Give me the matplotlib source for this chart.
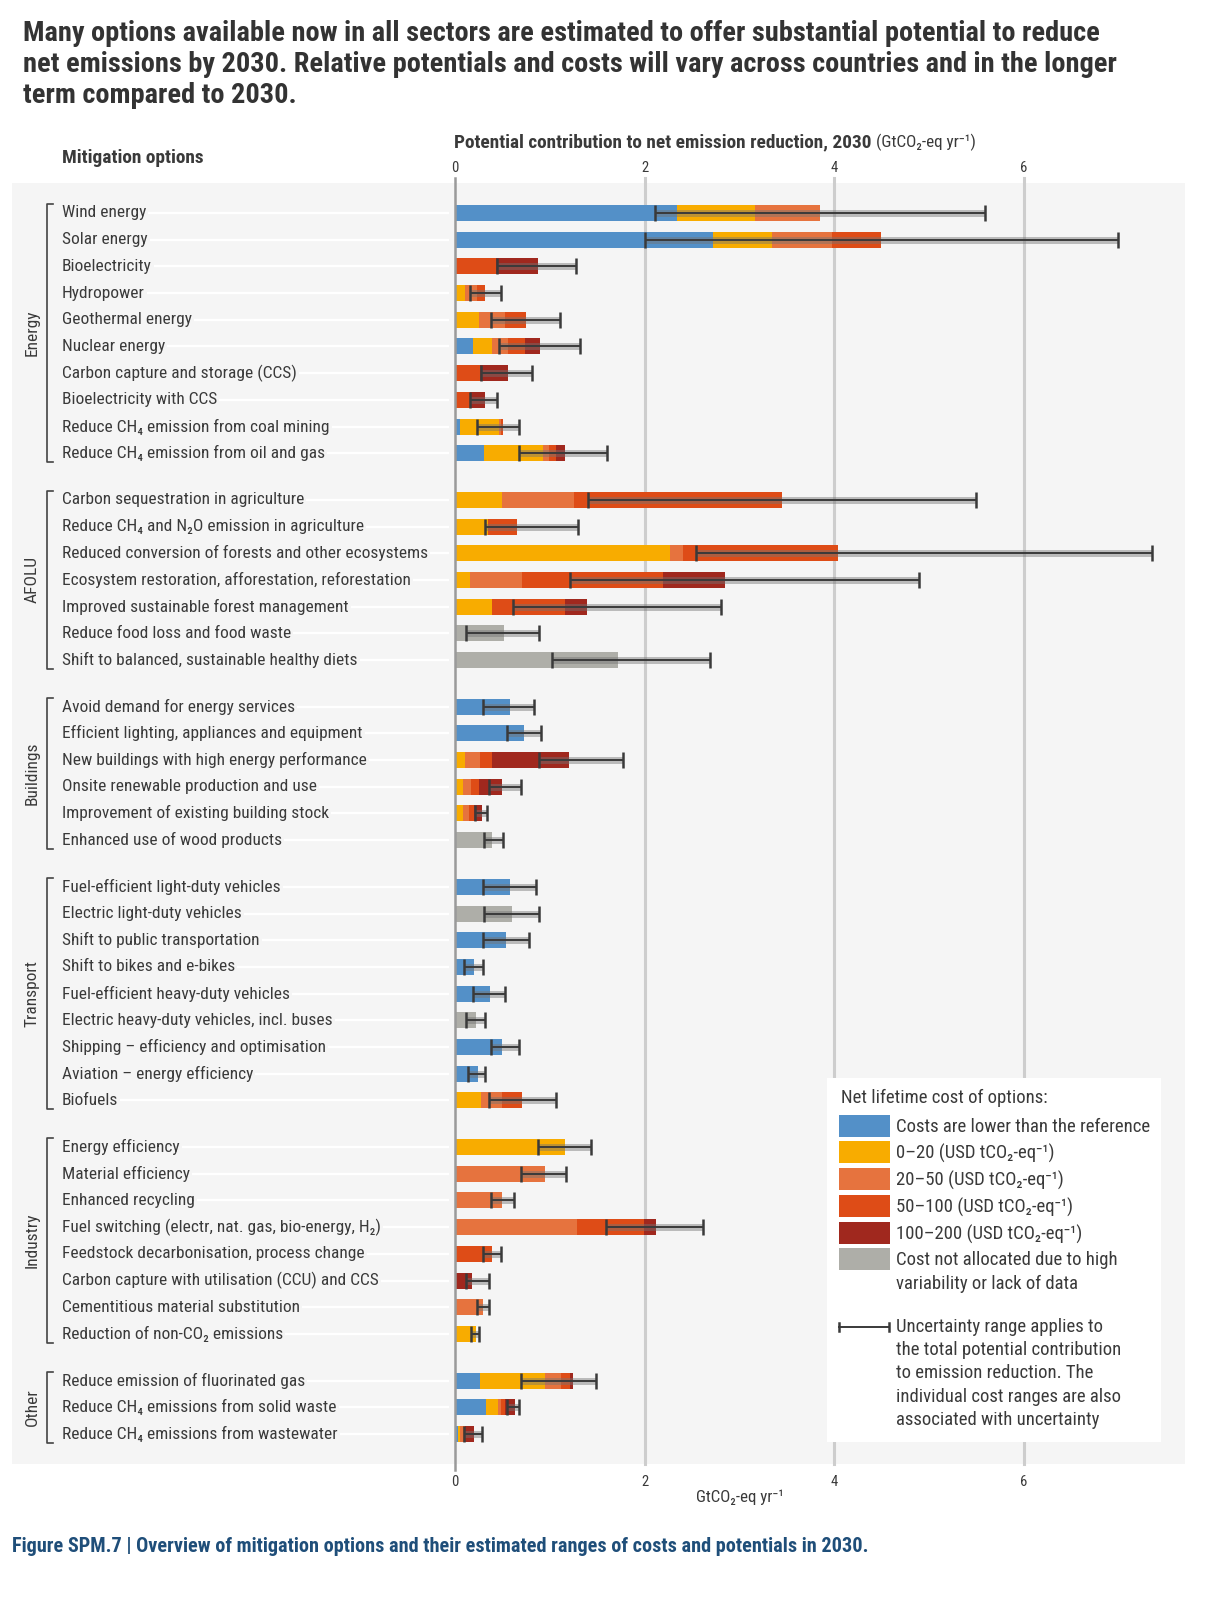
import matplotlib
matplotlib.use("Agg")
import matplotlib.pyplot as plt
import matplotlib.font_manager as fm
import matplotlib.patheffects as pe
from matplotlib.patches import Rectangle
from matplotlib.lines import Line2D

# ---- data (GtCO2-eq/yr, segment widths per cost class) ----
sectors = ["Energy", "AFOLU", "Buildings", "Transport", "Industry", "Other"]
options = [
    ["Wind energy", "Solar energy", "Bioelectricity", "Hydropower", "Geothermal energy",
     "Nuclear energy", "Carbon capture and storage (CCS)", "Bioelectricity with CCS",
     "Reduce CH₄ emission from coal mining", "Reduce CH₄ emission from oil and gas"],
    ["Carbon sequestration in agriculture", "Reduce CH₄ and N₂O emission in agriculture",
     "Reduced conversion of forests and other ecosystems",
     "Ecosystem restoration, afforestation, reforestation",
     "Improved sustainable forest management", "Reduce food loss and food waste",
     "Shift to balanced, sustainable healthy diets"],
    ["Avoid demand for energy services", "Efficient lighting, appliances and equipment",
     "New buildings with high energy performance", "Onsite renewable production and use",
     "Improvement of existing building stock", "Enhanced use of wood products"],
    ["Fuel-efficient light-duty vehicles", "Electric light-duty vehicles",
     "Shift to public transportation", "Shift to bikes and e-bikes",
     "Fuel-efficient heavy-duty vehicles", "Electric heavy-duty vehicles, incl. buses",
     "Shipping – efficiency and optimisation", "Aviation – energy efficiency", "Biofuels"],
    ["Energy efficiency", "Material efficiency", "Enhanced recycling",
     "Fuel switching (electr, nat. gas, bio-energy, H₂)",
     "Feedstock decarbonisation, process change",
     "Carbon capture with utilisation (CCU) and CCS",
     "Cementitious material substitution", "Reduction of non-CO₂ emissions"],
    ["Reduce emission of fluorinated gas", "Reduce CH₄ emissions from solid waste",
     "Reduce CH₄ emissions from wastewater"],
]

blue = [2.34, 2.72, 0, 0, 0, 0.19, 0, 0, 0.05, 0.31,
        0, 0, 0, 0, 0, 0, 0,
        0.58, 0.73, 0, 0, 0, 0,
        0.58, 0, 0.54, 0.20, 0.37, 0, 0.50, 0.24, 0,
        0, 0, 0, 0, 0, 0, 0, 0,
        0.26, 0.33, 0.03]
c0_20 = [0.82, 0.62, 0, 0.11, 0.25, 0.20, 0, 0, 0.41, 0.62,
         0.50, 0.35, 2.27, 0.16, 0.39, 0, 0,
         0, 0, 0.11, 0.08, 0.08, 0,
         0, 0, 0, 0, 0, 0, 0, 0, 0.27,
         1.16, 0, 0, 0, 0, 0, 0, 0.22,
         0.69, 0.12, 0.02]
c20_50 = [0.69, 0.64, 0, 0.12, 0.28, 0.17, 0, 0, 0.03, 0.06,
          0.75, 0, 0.13, 0.55, 0, 0, 0,
          0, 0, 0.15, 0.09, 0.07, 0,
          0, 0, 0, 0, 0, 0, 0, 0, 0.23,
          0, 0.95, 0.50, 1.29, 0, 0, 0.30, 0,
          0.17, 0.04, 0.03]
c50_100 = [0, 0.51, 0.43, 0.09, 0.22, 0.18, 0.26, 0.16, 0.02, 0.07,
           2.20, 0.30, 1.64, 1.48, 0.77, 0, 0,
           0, 0, 0.13, 0.08, 0.05, 0,
           0, 0, 0, 0, 0, 0, 0, 0, 0.21,
           0, 0, 0, 0.70, 0.39, 0, 0, 0,
           0.09, 0.04, 0.03]
c100_200 = [0, 0, 0.45, 0, 0, 0.16, 0.30, 0.16, 0, 0.10,
            0, 0, 0, 0.66, 0.23, 0, 0,
            0, 0, 0.81, 0.25, 0.08, 0,
            0, 0, 0, 0, 0, 0, 0, 0, 0,
            0, 0, 0, 0.13, 0, 0.18, 0, 0,
            0.03, 0.10, 0.09]
not_alloc = [0, 0, 0, 0, 0, 0, 0, 0, 0, 0,
             0, 0, 0, 0, 0, 0.52, 1.72,
             0, 0, 0, 0, 0, 0.39,
             0, 0.60, 0, 0, 0, 0.22, 0, 0, 0,
             0, 0, 0, 0, 0, 0, 0, 0,
             0, 0, 0]
err_lo = [2.11, 2.00, 0.44, 0.16, 0.38, 0.46, 0.27, 0.16, 0.23, 0.68,
          1.40, 0.32, 2.54, 1.21, 0.61, 0.12, 1.02,
          0.29, 0.55, 0.89, 0.36, 0.21, 0.31,
          0.29, 0.31, 0.29, 0.10, 0.19, 0.12, 0.38, 0.14, 0.36,
          0.87, 0.70, 0.38, 1.59, 0.29, 0.12, 0.23, 0.17,
          0.70, 0.55, 0.10]
err_hi = [5.59, 6.99, 1.28, 0.49, 1.11, 1.32, 0.81, 0.44, 0.68, 1.60,
          5.49, 1.30, 7.35, 4.89, 2.80, 0.89, 2.69,
          0.83, 0.91, 1.77, 0.70, 0.34, 0.51,
          0.85, 0.89, 0.78, 0.30, 0.53, 0.32, 0.68, 0.32, 1.07,
          1.43, 1.17, 0.62, 2.62, 0.49, 0.36, 0.36, 0.25,
          1.49, 0.68, 0.28]

cost_series = [blue, c0_20, c20_50, c50_100, c100_200, not_alloc]
cost_colors = ["#5390c8", "#f8ac00", "#e6733e", "#de4c17", "#a0281e", "#aeaea8"]
cost_labels = ["Costs are lower than the reference",
               "0–20 (USD tCO₂-eq⁻¹)", "20–50 (USD tCO₂-eq⁻¹)",
               "50–100 (USD tCO₂-eq⁻¹)", "100–200 (USD tCO₂-eq⁻¹)",
               "Cost not allocated due to high\nvariability or lack of data"]

TXT = "#3a3a3a"
PANEL_C = "#f5f5f5"

# ---- fonts ----
installed = {f.name for f in fm.fontManager.ttflist}
base = next(f for f in ["Liberation Sans Narrow", "Roboto Condensed", "Open Sans Condensed",
                        "Liberation Sans", "DejaVu Sans"] if f in installed)
FAM = [base, "DejaVu Sans"]
plt.rcParams["font.family"] = FAM

W, H = 1221, 1600
fig = plt.figure(figsize=(W / 100, H / 100), dpi=100)
renderer = fig.canvas.get_renderer()


def fx(px):
    return px / W


def fy(py):
    return 1 - py / H


def fit(text, width_px, weight="normal"):
    t = fig.text(0, 0, text, fontsize=10, weight=weight)
    w = t.get_window_extent(renderer).width
    t.remove()
    return 10 * width_px / w


lab_fs = fit("Carbon capture and storage (CCS)", 234)
leg_fs = fit("Costs are lower than the reference", 252)
title_fs = fit("Many options available now in all sectors are estimated to offer "
               "substantial potential to reduce", 1075, "bold")

# ---- row positions ----
ypos = []
sec_rows = []
pos = 0.0
for opts in options:
    rows = []
    for _ in opts:
        rows.append(pos)
        pos += 1
    sec_rows.append(rows)
    ypos += rows
    pos += 0.75
labels = [o for opts in options for o in opts]

# grey panel
fig.add_artist(Rectangle((fx(12), fy(1464)), fx(1185) - fx(12), (1464 - 183) / H,
                         transform=fig.transFigure, fc=PANEL_C, ec="none", zorder=-1))

X0, UNIT = 455, 94.83
ax = fig.add_axes([fx(X0), fy(1464), fx(1185) - fx(X0), (1464 - 183) / H])
ax.set_facecolor("none")
ax.set_xlim(0, (1185 - X0) / UNIT)
row_px = (1434 - 213) / ypos[-1]
ax.set_ylim(ypos[-1] + (1464 - 1434) / row_px, -(213 - 183) / row_px)
for s in ax.spines.values():
    s.set_visible(False)
ax.set_xticks([])
ax.set_yticks([])


def dx(px):
    return (px - X0) / UNIT


# gridlines
for v in [2, 4, 6]:
    ax.axvline(v, ymin=0, ymax=1 + 5 / 1281, color="#cdcdcd", lw=2.2, zorder=0, clip_on=False)
ax.axvline(0, ymin=-6 / 1281, ymax=1 + 5 / 1281, color="#9a9a9a", lw=1.8, zorder=2.5, clip_on=False)

# stacked bars
left = [0.0] * len(ypos)
for vals, col in zip(cost_series, cost_colors):
    ax.barh(ypos, vals, left=left, height=0.6, color=col, edgecolor="none", zorder=2)
    left = [a + b for a, b in zip(left, vals)]

# uncertainty ranges
mid = [(a + b) / 2 for a, b in zip(err_lo, err_hi)]
half = [(b - a) / 2 for a, b in zip(err_lo, err_hi)]
eb = ax.errorbar(mid, ypos, xerr=half, fmt="none", ecolor="#3a3a3a", elinewidth=1.4,
                 capsize=5.5, capthick=1.8, zorder=3)
eb[2][0].set_path_effects([pe.Stroke(linewidth=5, foreground=(0.45, 0.45, 0.45, 0.45)),
                           pe.Normal()])

# row labels with white leader lines
for y, lab in zip(ypos, labels):
    ax.plot([dx(62), -0.06], [y, y], color="white", lw=1.6, zorder=1,
            clip_on=False, solid_capstyle="butt")
    ax.text(dx(62), y, lab, ha="left", va="center", fontsize=lab_fs, color=TXT,
            bbox=dict(fc=PANEL_C, ec="none", pad=1.5), zorder=3, clip_on=False)

# sector brackets
for name, rows in zip(sectors, sec_rows):
    top, bot = rows[0] - 0.33, rows[-1] + 0.33
    ax.plot([dx(53), dx(47), dx(47), dx(53)], [top, top, bot, bot],
            color="#444444", lw=1.2, clip_on=False)
    ax.text(dx(32), (rows[0] + rows[-1]) / 2, name, rotation=90, ha="center",
            va="center", fontsize=lab_fs, color=TXT, clip_on=False)

# tick labels top and bottom
tick_fs = lab_fs * 0.85
xt = ax.get_xaxis_transform()
for v in [0, 2, 4, 6]:
    ax.text(v, (1464 - 168) / 1281, str(v), transform=xt, ha="center", va="center",
            fontsize=tick_fs, color=TXT)
    ax.text(v, (1464 - 1482) / 1281, str(v), transform=xt, ha="center", va="center",
            fontsize=tick_fs, color=TXT)
ax.text(3, (1464 - 1497) / 1281, "GtCO₂-eq yr⁻¹", transform=xt, ha="center", va="center",
        fontsize=fit("GtCO₂-eq yr⁻¹", 88), color=TXT)

# headings
t1 = fig.text(fx(454), fy(142), "Potential contribution to net emission reduction, 2030",
              ha="left", va="center", weight="bold", color=TXT,
              fontsize=fit("Potential contribution to net emission reduction, 2030", 418, "bold"))
bb = t1.get_window_extent(renderer)
fig.text(fx(bb.x1 + 5), fy(142), "(GtCO₂-eq yr⁻¹)", ha="left", va="center", color=TXT,
         fontsize=fit("(GtCO₂-eq yr⁻¹)", 100))
fig.text(fx(62), fy(158), "Mitigation options", ha="left", va="center", weight="bold",
         color=TXT, fontsize=fit("Mitigation options", 142, "bold"))

title_lines = ["Many options available now in all sectors are estimated to offer substantial potential to reduce",
               "net emissions by 2030. Relative potentials and costs will vary across countries and in the longer",
               "term compared to 2030."]
for line, base_y in zip(title_lines, [41, 72, 103]):
    fig.text(fx(23), fy(base_y), line, ha="left", va="baseline", weight="bold",
             fontsize=title_fs, color="#333333")

cap = "Figure SPM.7 | Overview of mitigation options and their estimated ranges of costs and potentials in 2030."
fig.text(fx(12), fy(1547), cap, ha="left", va="center", weight="bold", color="#1f4e79",
         fontsize=fit(cap, 858, "bold"))

# legend
fig.add_artist(Rectangle((fx(827), fy(1442)), fx(1161) - fx(827), (1442 - 1078) / H,
                         transform=fig.transFigure, fc="white", ec="none", zorder=3))
fig.text(fx(841), fy(1098), "Net lifetime cost of options:", ha="left", va="center",
         fontsize=leg_fs, color=TXT, zorder=4)
sw_y = [1126, 1152, 1179, 1206, 1233, 1259]
for yc, col, lab in zip(sw_y, cost_colors, cost_labels):
    fig.add_artist(Rectangle((fx(839), fy(yc + 11)), fx(890) - fx(839), 22 / H,
                             transform=fig.transFigure, fc=col, ec="none", zorder=4))
    lines = lab.split("\n")
    for k, ln in enumerate(lines):
        fig.text(fx(896), fy(yc + 1 + 24 * k), ln, ha="left", va="center",
                 fontsize=leg_fs, color=TXT, zorder=4)
fig.add_artist(Line2D([fx(839), fx(889)], [fy(1327), fy(1327)], color="#3a3a3a", lw=1.4,
                      transform=fig.transFigure, zorder=4))
for xc in [839, 889]:
    fig.add_artist(Line2D([fx(xc), fx(xc)], [fy(1323), fy(1331)], color="#3a3a3a", lw=1.8,
                          transform=fig.transFigure, zorder=4))
unc = ["Uncertainty range applies to", "the total potential contribution",
       "to emission reduction. The", "individual cost ranges are also",
       "associated with uncertainty"]
for ln, yc in zip(unc, [1327, 1350, 1373, 1397, 1420]):
    fig.text(fx(896), fy(yc), ln, ha="left", va="center", fontsize=leg_fs, color=TXT, zorder=4)

fig.savefig("out.png", dpi=100, facecolor="white")
